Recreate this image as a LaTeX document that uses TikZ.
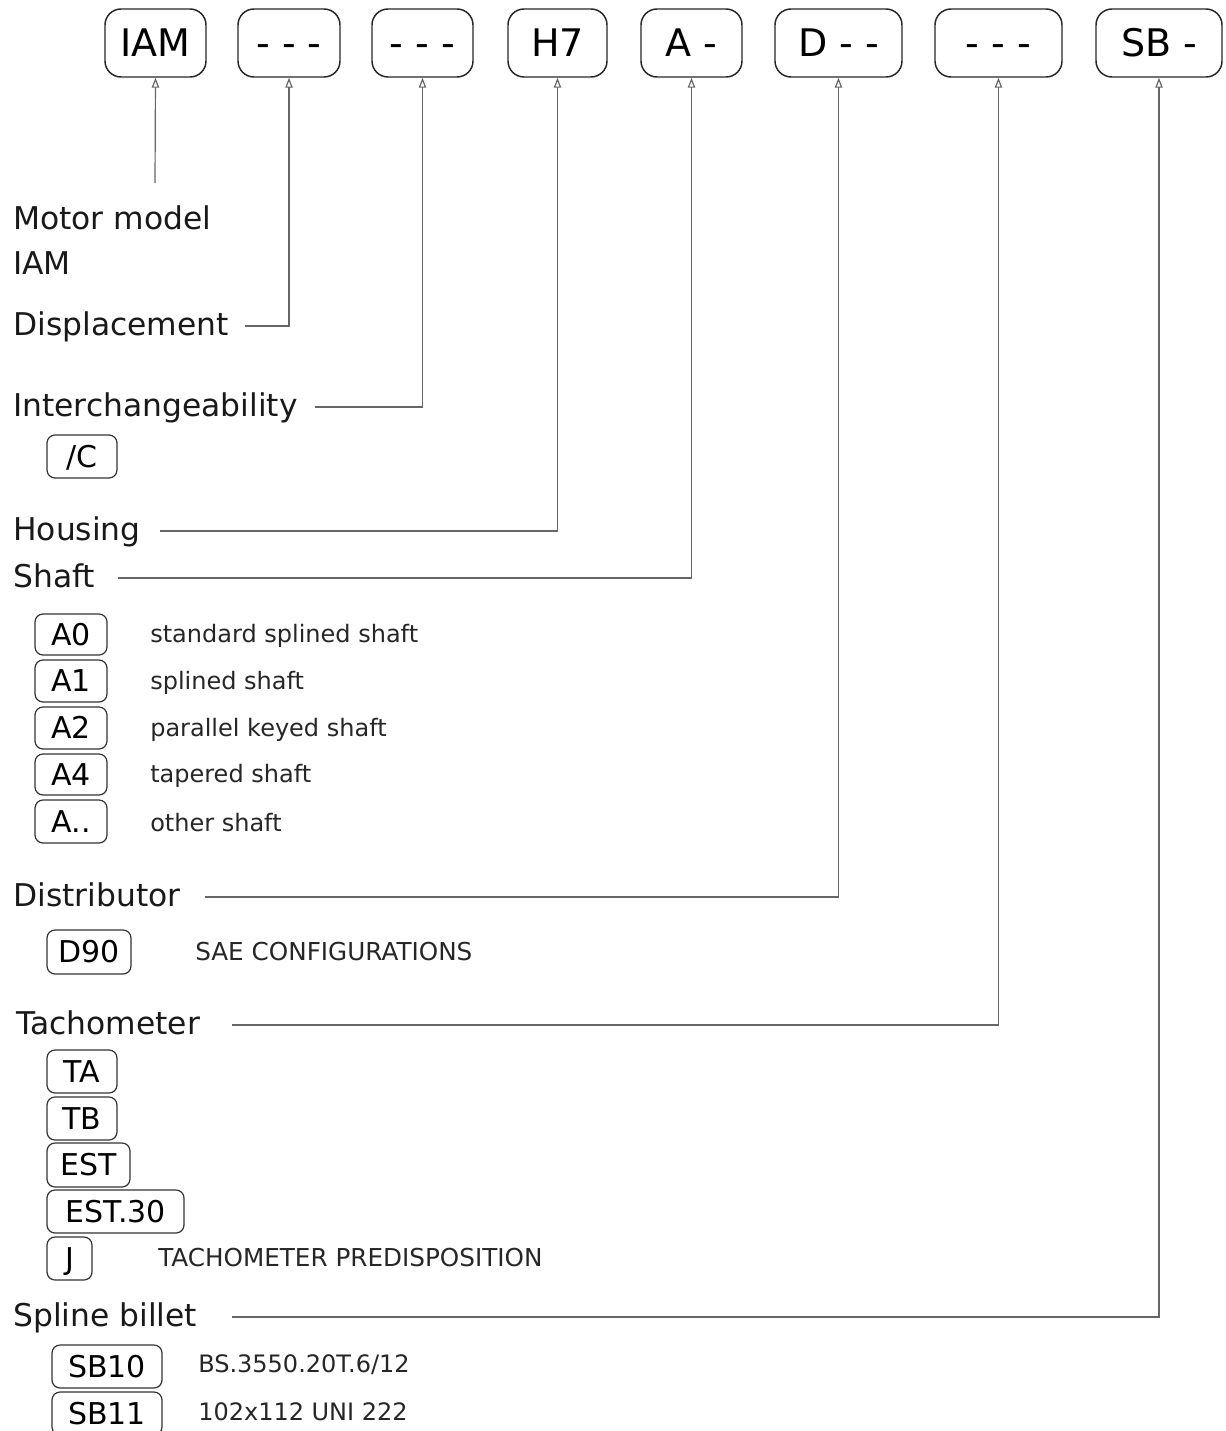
\documentclass[tikz,border=0pt]{standalone}
\usepackage{fontspec}
\setmainfont{DejaVu Sans}
\usetikzlibrary{arrows.meta}
\begin{document}
\begin{tikzpicture}[x=0.75pt,y=-0.75pt,
  topbox/.style={draw=black!85,line width=1.1pt,rounded corners=12pt,minimum height=51pt,inner sep=0pt,text height=20.8pt,text depth=0pt,font=\fontsize{28.5}{30}\selectfont},
  codebox/.style={draw=black!80,line width=0.9pt,rounded corners=6pt,inner sep=0pt,text height=16.4pt,text depth=0pt,font=\fontsize{22.5}{24}\selectfont},
  lab/.style={anchor=mid west,inner sep=0pt,yshift=-4.5pt,font=\fontsize{23.5}{26}\selectfont,text=black!90},
  desc/.style={anchor=mid west,inner sep=0pt,yshift=-4pt,font=\fontsize{18}{20}\selectfont,text=black!85},
  capdesc/.style={anchor=mid west,inner sep=0pt,yshift=-4pt,font=\fontsize{18.5}{20}\selectfont,text=black!85},
  conn/.style={draw=black!60,line width=0.9pt,-{Triangle[open,length=7.5pt,width=5.5pt]}}]
\useasboundingbox (0,0) rectangle (1225,1431);
% top code boxes
\node[topbox,minimum width=75.75pt] (b1) at (155.5,43) {IAM};
\node[topbox,minimum width=76.5pt]  (b2) at (289,43) {- - -};
\node[topbox,minimum width=75.75pt] (b3) at (422.5,43) {- - -};
\node[topbox,minimum width=74.25pt] (b4) at (557.5,43) {H7};
\node[topbox,minimum width=75.75pt] (b5) at (691.5,43) {A -};
\node[topbox,minimum width=95.25pt] (b6) at (838.5,43) {D - -};
\node[topbox,minimum width=95.25pt] (b7) at (998.5,43) {- - -};
\node[topbox,minimum width=94.5pt]  (b8) at (1159,43) {SB -};
% labels
\node[lab] (lmotor) at (13,220) {Motor model};
\node[lab] (liam) at (13,265) {IAM};
\node[lab] (ldisp) at (13,326) {Displacement};
\node[lab] (linter) at (13,407) {Interchangeability};
\node[lab] (lhous) at (13,531) {Housing};
\node[lab] (lshaft) at (13,578) {Shaft};
\node[lab] (ldist) at (13,897) {Distributor};
\node[lab] (ltach) at (16,1025) {Tachometer};
\node[lab] (lspl) at (13,1317) {Spline billet};
% connector start points
\coordinate (ciam) at (155,183);
\coordinate (cdisp) at (245,326);
\coordinate (cinter) at (315,407);
\coordinate (chous) at (160,531);
\coordinate (cshaft) at (118,578);
\coordinate (cdist) at (205,897);
\coordinate (ctach) at (232,1025);
\coordinate (cspl) at (232,1317);
% connectors
\draw[conn] (ciam) -- (b1.south);
\draw[conn] (cdisp) -| (b2.south);
\draw[conn] (cinter) -| (b3.south);
\draw[conn] (chous) -| (b4.south);
\draw[conn] (cshaft) -| (b5.south);
\draw[conn] (cdist) -| (b6.south);
\draw[conn] (ctach) -| (b7.south);
\draw[conn] (cspl) -| (b8.south);
% option boxes
\node[codebox,minimum width=52.5pt,minimum height=32.25pt] (oc) at (82,456.5) {/C};
\node[codebox,minimum width=54pt,minimum height=30.75pt] (oa0) at (71,634.5) {A0};
\node[codebox,minimum width=54pt,minimum height=31.5pt] (oa1) at (71,681) {A1};
\node[codebox,minimum width=54pt,minimum height=31.5pt] (oa2) at (71,728) {A2};
\node[codebox,minimum width=54pt,minimum height=30.75pt] (oa4) at (71,774.5) {A4};
\node[codebox,minimum width=54pt,minimum height=32.25pt] (oax) at (71,821.5) {A..};
\node[codebox,minimum width=63pt,minimum height=33pt] (od90) at (89,952) {D90};
\node[codebox,minimum width=52.5pt,minimum height=32.25pt] (ota) at (82,1071.5) {TA};
\node[codebox,minimum width=52.5pt,minimum height=32.25pt] (otb) at (82,1118.5) {TB};
\node[codebox,minimum width=62.25pt,minimum height=33pt] (oest) at (88.5,1165) {EST};
\node[codebox,minimum width=102.75pt,minimum height=32.25pt] (oest30) at (115.5,1211.5) {EST.30};
\node[codebox,minimum width=33.75pt,minimum height=32.25pt] (oj) at (69.5,1258.5) {J};
\node[codebox,minimum width=82.5pt,minimum height=32.25pt] (osb10) at (107,1366.5) {SB10};
\node[codebox,minimum width=82.5pt,minimum height=32.25pt] (osb11) at (107,1413.5) {SB11};
% descriptions
\node[desc] (da0) at (150,634) {standard splined shaft};
\node[desc] (da1) at (150,681) {splined shaft};
\node[desc] (da2) at (150,728) {parallel keyed shaft};
\node[desc] (da4) at (150,774) {tapered shaft};
\node[desc] (dax) at (150,823) {other shaft};
\node[capdesc] (dd90) at (195,952) {SAE CONFIGURATIONS};
\node[capdesc] (dj) at (158,1258) {TACHOMETER PREDISPOSITION};
\node[desc] (dsb10) at (198,1364) {BS.3550.20T.6/12};
\node[desc] (dsb11) at (198,1412) {102x112 UNI 222};
\end{tikzpicture}
\end{document}
